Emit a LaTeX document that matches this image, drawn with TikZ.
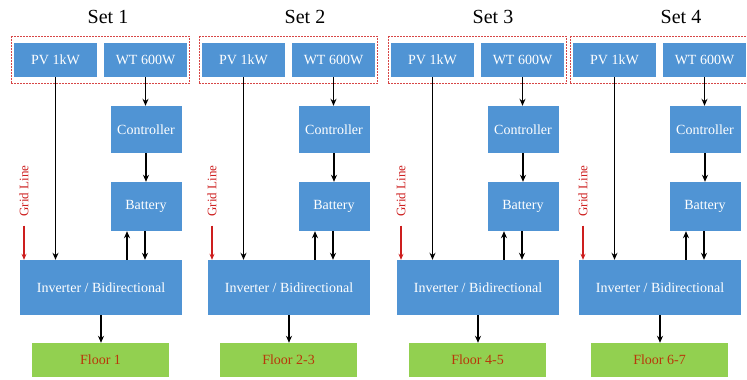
\documentclass[tikz,border=0pt]{standalone}
\usepackage{fontspec}
\setmainfont{Liberation Serif}
\usetikzlibrary{positioning,fit,arrows.meta}
\definecolor{boxblue}{RGB}{80,148,212}
\definecolor{floorgreen}{RGB}{146,208,80}
\definecolor{floortext}{RGB}{185,55,10}
\definecolor{gridred}{RGB}{205,30,30}
\definecolor{dashred}{RGB}{215,70,70}

\begin{document}
\begin{tikzpicture}[x=1pt,y=-1pt]
        \tikzstyle{unitbox} = [fill=boxblue,text=white,inner sep=0pt,font=\fontsize{14}{16}\selectfont]
        \tikzstyle{floorbox} = [fill=floorgreen,text=floortext,inner sep=0pt,minimum width=137pt,minimum height=34pt,font=\fontsize{14}{16}\selectfont]
        \tikzstyle{flow} = [-{Stealth[length=7pt,width=6pt]},line width=1.8pt]
        \tikzstyle{gridflow} = [-{Stealth[length=6pt,width=5pt]},line width=1.8pt,gridred]
        \useasboundingbox (0,0) rectangle (747,380);
        \foreach \ox/\n/\fl/\tx in {0/1/1/108, 188/2/2-3/305, 377/3/4-5/493, 559/4/6-7/681}{
          % sources
          \node[unitbox,minimum width=83pt,minimum height=34pt] (pv\n) at (\ox+55.5,60) {PV 1kW};
          \node[unitbox,minimum width=83pt,minimum height=34pt] (wt\n) at (\ox+145.5,60) {WT 600W};
          \node[draw=dashred,dash pattern=on 2pt off 1pt,line width=1.2pt,inner xsep=2.5pt,inner ysep=6pt,fit=(pv\n)(wt\n)] (src\n) {};
          \node[font=\fontsize{20}{24}\selectfont] (set\n) at (\tx,17) {Set \n};
          % storage path
          \node[unitbox,minimum width=71pt,minimum height=47pt] (ctrl\n) at (\ox+146,129.5) {Controller};
          \node[unitbox,minimum width=71pt,minimum height=49pt] (bat\n) at (\ox+146,206.5) {Battery};
          \node[unitbox,minimum width=162pt,minimum height=55pt] (inv\n) at (\ox+101,287.5) {Inverter / Bidirectional};
          \node[floorbox] (fl\n) at (\ox+100.5,360) {Floor \fl};
          \node[rotate=90,text=gridred,font=\fontsize{13}{15}\selectfont,inner sep=0pt] (grid\n) at (\ox+24,191) {Grid Line};
          % connectors
          \draw[flow] (pv\n.south) -- (pv\n.south |- inv\n.north);
          \draw[flow] (wt\n.south) -- (wt\n.south |- ctrl\n.north);
          \draw[flow] (ctrl\n) -- (bat\n);
          \draw[flow] ([xshift=-1pt]bat\n.south) -- ([xshift=-1pt]bat\n.south |- inv\n.north);
          \draw[flow] ([xshift=-19pt]bat\n.south |- inv\n.north) -- ([xshift=-19pt]bat\n.south);
          \draw[flow] (inv\n.south) -- (inv\n.south |- fl\n.north);
          \draw[gridflow] ([yshift=-9pt]grid\n.west) -- (grid\n.west |- inv\n.north);
        }
      \end{tikzpicture}
\end{document}
